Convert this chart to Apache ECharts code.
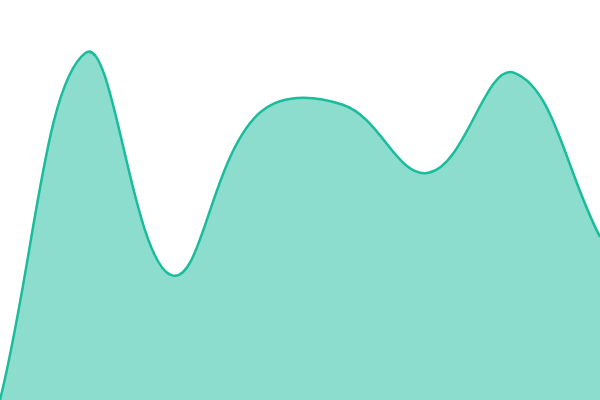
<!DOCTYPE html>
<html>
<head>
<meta charset="utf-8">
<script src="https://cdn.jsdelivr.net/npm/echarts@6/dist/echarts.min.js"></script>
<style>
  html, body { margin: 0; padding: 0; background: #fff; }
  #container { width: 600px; height: 400px; }
</style>
</head>
<body>
<div id="container"></div>
<script>
var categories = ['A', 'B', 'C', 'D', 'E', 'F', 'G', 'H'];
var values = [0, 86.8, 31.2, 71.2, 73.8, 56.8, 81.8, 40.8];

var lineColor = '#1abc9c';
var smooth = 0.4;

// spline through the points, control points like a line series' smooth
// but without clamping them to each segment's box
var SplineShape = echarts.graphic.extendShape({
    shape: { points: [], baseY: 0, closed: false },
    buildPath: function (ctx, shape) {
        var pts = shape.points;
        var n = pts.length;
        if (!n) return;
        var cps = [];
        for (var i = 0; i < n; i++) {
            var p = pts[i];
            var prev = pts[i > 0 ? i - 1 : i];
            var next = pts[i < n - 1 ? i + 1 : i];
            var vx = next[0] - prev[0], vy = next[1] - prev[1];
            var d0 = Math.hypot(p[0] - prev[0], p[1] - prev[1]);
            var d1 = Math.hypot(next[0] - p[0], next[1] - p[1]);
            var r = d0 + d1 > 0 ? d1 / (d0 + d1) : 0.5;
            cps.push({
                inX: p[0] - vx * smooth * (1 - r), inY: p[1] - vy * smooth * (1 - r),
                outX: p[0] + vx * smooth * r, outY: p[1] + vy * smooth * r
            });
        }
        ctx.moveTo(pts[0][0], pts[0][1]);
        for (var j = 1; j < n; j++) {
            ctx.bezierCurveTo(cps[j - 1].outX, cps[j - 1].outY,
                cps[j].inX, cps[j].inY, pts[j][0], pts[j][1]);
        }
        if (shape.closed) {
            ctx.lineTo(pts[n - 1][0], shape.baseY);
            ctx.lineTo(pts[0][0], shape.baseY);
            ctx.closePath();
        }
    }
});
echarts.graphic.registerShape('splineArea', SplineShape);

var myChart = echarts.init(document.getElementById('container'));
var option = {
    animation: false,
    grid: { left: 0, right: 0, top: 0, bottom: 0 },
    xAxis: {
        type: 'category',
        boundaryGap: false,
        data: categories,
        show: false
    },
    yAxis: {
        type: 'value',
        min: 0,
        max: 100,
        show: false
    },
    series: [{
        type: 'custom',
        data: values,
        renderItem: function (params, api) {
            if (params.dataIndex !== 0) return;
            var pts = values.map(function (v, i) {
                return api.coord([i, v]);
            });
            var baseY = api.coord([0, 0])[1];
            return {
                type: 'group',
                children: [{
                    type: 'splineArea',
                    shape: { points: pts, baseY: baseY, closed: true },
                    style: { fill: lineColor, opacity: 0.5 }
                }, {
                    type: 'splineArea',
                    shape: { points: pts, closed: false },
                    style: { fill: 'none', stroke: lineColor, lineWidth: 2.5 }
                }]
            };
        }
    }]
};
myChart.setOption(option);
</script>
</body>
</html>
